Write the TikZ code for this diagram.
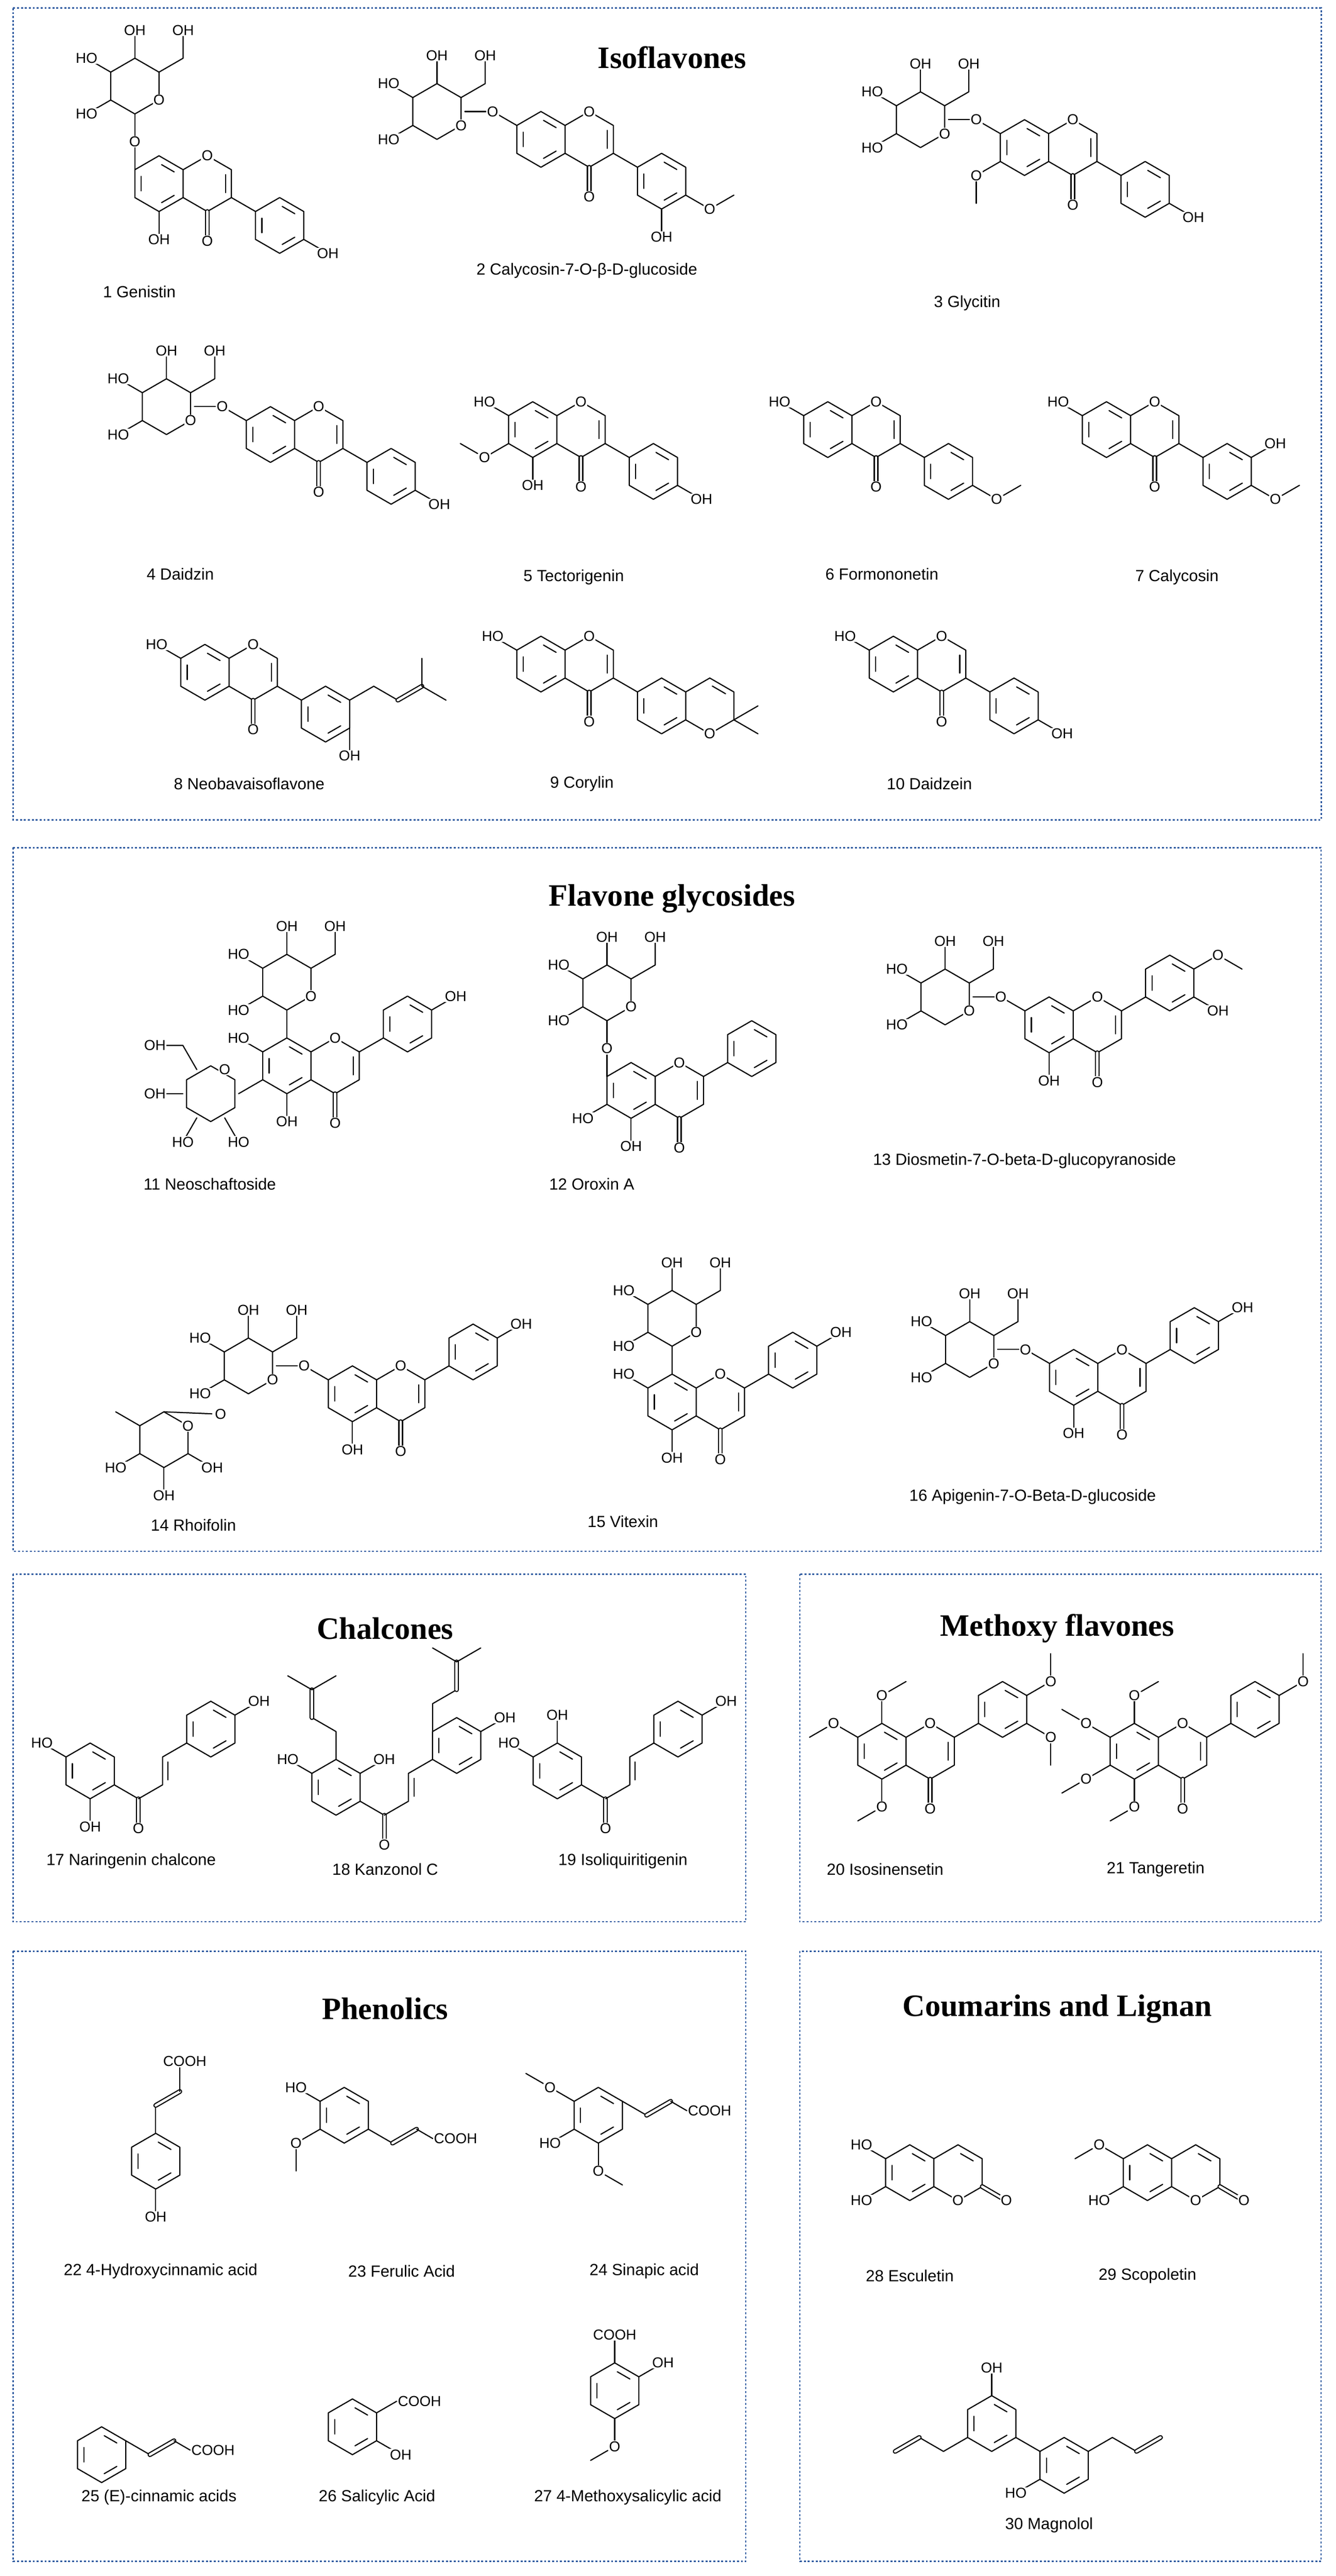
\documentclass[tikz,border=0pt]{standalone}
\usepackage{fontspec}
\setmainfont{Liberation Sans}
\newfontfamily\ttl{Liberation Serif}
\definecolor{boxc}{RGB}{46,90,160}
\newcommand\bd[2]{\draw[bond] (#1)--(#2);}
\newcommand\sbs[3]{\draw[bond] (#1)--(#2) node[atm]{#3};}
\newcommand\dbd[2]{\draw[bond,double,double distance=1.5mm] (#1)--(#2);}
\newcommand\ome[3]{\draw[bond] (#1)--(#2) node[atm] (oo) {O}; \draw[bond] (oo)--(#3);}
\tikzset{
 x=1mm,y=1mm,
 bond/.style={line width=0.7mm, line cap=round, line join=round},
 atm/.style={fill=white, inner sep=0.4mm, font=\fontsize{25}{26}\selectfont},
 lab/.style={font=\fontsize{28}{30}\selectfont},
 ttlst/.style={font=\ttl\bfseries\fontsize{54}{56}\selectfont},
 boxst/.style={draw=boxc, line width=0.7mm, dash pattern=on 1.2mm off 1.2mm},
 pics/hexr/.style={code={
  \draw[bond] (90:17)--(30:17)--(-30:17)--(-90:17)--(-150:17)--(150:17)--cycle;}},
 pics/arom/.style={code={
  \draw[bond] (90:17)--(30:17)--(-30:17)--(-90:17)--(-150:17)--(150:17)--cycle;
  \draw[bond,shorten >=1.8mm,shorten <=1.8mm] (90:12.5)--(30:12.5);
  \draw[bond,shorten >=1.8mm,shorten <=1.8mm] (-30:12.5)--(-90:12.5);
  \draw[bond,shorten >=1.8mm,shorten <=1.8mm] (-150:12.5)--(150:12.5);}},
 pics/chrom/.style={code={
  \pic at (0,0) {arom};
  \draw[bond] (14.72,8.5)--(29.44,17)--(44.17,8.5)--(44.17,-8.5)--(29.44,-17)--(14.72,-8.5);
  \draw[bond] (40.5,5.5)--(40.5,-5.5);
  \draw[bond,double,double distance=1.5mm] (29.44,-17)--(29.44,-32);
  \node[atm] at (29.44,-35) {O};
  \node[atm] at (29.44,17) {O};}},
 pics/isofl/.style={code={
  \pic at (0,0) {chrom};
  \draw[bond] (44.17,-8.5)--(58.9,-17);
  \pic at (73.6,-25.5) {arom};}},
 pics/flav/.style={code={
  \pic at (0,0) {chrom};
  \draw[bond] (44.17,8.5)--(58.9,17);
  \pic at (73.6,25.5) {arom};}},
 pics/glcC/.style={code={
  \pic at (0,0) {hexr};
  \draw[bond] (-14.72,-8.5)--(-29.44,-17) node[atm]{HO};
  \draw[bond] (-14.72,8.5)--(-29.44,17) node[atm]{HO};
  \draw[bond] (0,17)--(0,34) node[atm]{OH};
  \draw[bond] (14.72,8.5)--(29.44,17)--(29.44,34) node[atm]{OH};
  \node[atm] at (14.72,-8.5){O};}},
 pics/glcO/.style={code={
  \draw[bond] (0,-17)--(0,-34) node[atm]{O};
  \pic at (0,0) {glcC};}},
 pics/rha/.style={code={
  \pic at (0,0) {hexr};
  \draw[bond] (-14.72,8.5)--(-29.44,17);
  \draw[bond] (-14.72,-8.5)--(-29.44,-17) node[atm]{HO};
  \draw[bond] (0,-17)--(0,-34) node[atm]{OH};
  \draw[bond] (14.72,-8.5)--(29.44,-17) node[atm]{OH};
  \node[atm] at (14.72,8.5){O};}},
 pics/chal/.style={code={
  \pic at (0,0) {arom};
  \draw[bond] (14.72,-8.5)--(29.44,-17);
  \draw[bond,double,double distance=1.5mm] (29.44,-17)--(29.44,-32);
  \node[atm] at (29.44,-35) {O};
  \draw[bond] (29.44,-17)--(44.17,-8.5)--(44.17,8.5)--(58.9,17);
  \draw[bond] (47.5,-5.5)--(47.5,5.5);
  \pic at (73.6,25.5) {arom};}},
 pics/coum/.style={code={
  \pic at (0,0) {arom};
  \draw[bond] (14.72,8.5)--(29.44,17)--(44.17,8.5)--(44.17,-8.5)--(29.44,-17)--(14.72,-8.5);
  \draw[bond,shorten >=1.8mm,shorten <=1.8mm] (29.44,12.5)--(40.3,6.25);
  \draw[bond,double,double distance=1.5mm] (44.17,-8.5)--(57,-16);
  \node[atm] at (58.9,-17) {O};
  \node[atm] at (29.44,-17) {O};}},
}
\begin{document}
\begin{tikzpicture}
\useasboundingbox (0,0) rectangle (815,-1571);
% boxes
\draw[boxst,line width=0.9mm] (8,-5) rectangle (806,-500);
\draw[boxst] (8,-517) rectangle (806,-946);
\draw[boxst] (8,-960) rectangle (455,-1172);
\draw[boxst] (488,-960) rectangle (806,-1172);
\draw[boxst] (8,-1190) rectangle (455,-1562);
\draw[boxst] (488,-1190) rectangle (806,-1562);
\node[ttlst] (t1) at (410,-35) {Isoflavones};
\node[ttlst] (t2) at (410,-548) {Flavone glycosides};
\node[ttlst] (t3) at (235,-993) {Chalcones};
\node[ttlst] (t4) at (645,-993) {Methoxy flavones};
\node[ttlst] (t5) at (235,-1225) {Phenolics};
\node[ttlst] (t6) at (645,-1225) {Coumarins and Lignan};
% ---------- Isoflavones ----------
\begin{scope}[shift={(97,-112)}]
 \bd{-14.72,8.5}{-14.72,25.5}
 \pic at (-14.72,59.5) {glcO};
 \pic {isofl};
 \sbs{0,-17}{0,-34}{OH}
 \sbs{88.3,-34}{103,-42.5}{OH}
\end{scope}
\node[lab] (l1) at (85,-178) {1 Genistin};
\begin{scope}[shift={(330,-85)}]
 \bd{-14.72,8.5}{-29.44,17}
 \pic[rotate=90] at (-63.44,17) {glcO};
 \pic {isofl};
 \sbs{73.6,-42.5}{73.6,-59.5}{OH}
 \ome{88.3,-34}{103,-42.5}{117.7,-34}
\end{scope}
\node[lab] (l2) at (358,-165) {2 Calycosin-7-O-β-D-glucoside};
\begin{scope}[shift={(625,-90)}]
 \bd{-14.72,8.5}{-29.44,17}
 \pic[rotate=90] at (-63.44,17) {glcO};
 \pic {isofl};
 \ome{-14.72,-8.5}{-29.44,-17}{-29.44,-34}
 \sbs{88.3,-34}{103,-42.5}{OH}
\end{scope}
\node[lab] (l3) at (590,-185) {3 Glycitin};
\begin{scope}[shift={(165,-265)}]
 \bd{-14.72,8.5}{-29.44,17}
 \pic[rotate=90] at (-63.44,17) {glcO};
 \pic {isofl};
 \sbs{88.3,-34}{103,-42.5}{OH}
\end{scope}
\node[lab] (l4) at (110,-350) {4 Daidzin};
\begin{scope}[shift={(325,-262)}]
 \pic {isofl};
 \sbs{-14.72,8.5}{-29.44,17}{HO}
 \ome{-14.72,-8.5}{-29.44,-17}{-44.17,-8.5}
 \sbs{0,-17}{0,-34}{OH}
 \sbs{88.3,-34}{103,-42.5}{OH}
\end{scope}
\node[lab] (l5) at (350,-352) {5 Tectorigenin};
\begin{scope}[shift={(505,-262)}]
 \pic {isofl};
 \sbs{-14.72,8.5}{-29.44,17}{HO}
 \ome{88.3,-34}{103,-42.5}{117.7,-34}
\end{scope}
\node[lab] (l6) at (538,-350) {6 Formononetin};
\begin{scope}[shift={(675,-262)}]
 \pic {isofl};
 \sbs{-14.72,8.5}{-29.44,17}{HO}
 \sbs{88.3,-17}{103,-8.5}{OH}
 \ome{88.3,-34}{103,-42.5}{117.7,-34}
\end{scope}
\node[lab] (l7) at (718,-352) {7 Calycosin};
\begin{scope}[shift={(125,-410)}]
 \pic {isofl};
 \sbs{-14.72,8.5}{-29.44,17}{HO}
 \draw[bond] (88.3,-17)--(103,-8.5)--(117.7,-17);
 \dbd{117.7,-17}{132.4,-8.5}
 \draw[bond] (147.1,-17)--(132.4,-8.5)--(132.4,8.5);
 \sbs{88.3,-34}{88.3,-51}{OH}
\end{scope}
\node[lab] (l8) at (152,-478) {8 Neobavaisoflavone};
\begin{scope}[shift={(330,-405)}]
 \pic {isofl};
 \sbs{-14.72,8.5}{-29.44,17}{HO}
 \draw[bond] (88.3,-17)--(103,-8.5)--(117.7,-17)--(117.7,-34)--(103,-42.5)--(88.3,-34);
 \draw[bond,shorten >=1.8mm,shorten <=1.8mm] (103,-12.5)--(114.2,-19);
 \draw[bond] (132.4,-25.5)--(117.7,-34)--(132.4,-42.5);
 \node[atm] at (103,-42.5) {O};
\end{scope}
\node[lab] (l9) at (355,-478) {9 Corylin};
\begin{scope}[shift={(545,-405)}]
 \pic {isofl};
 \sbs{-14.72,8.5}{-29.44,17}{HO}
 \sbs{88.3,-34}{103,-42.5}{OH}
\end{scope}
\node[lab] (l10) at (567,-478) {10 Daidzein};
% ---------- Flavone glycosides ----------
\begin{scope}[shift={(175,-650)}]
 \bd{0,17}{0,34}
 \pic at (0,51) {glcC};
 \bd{-14.72,-8.5}{-29.44,-17}
 \pic[rotate=90] at (-46.44,-17) {glcC};
 \pic {flav};
 \sbs{-14.72,8.5}{-29.44,17}{HO}
 \sbs{0,-17}{0,-34}{OH}
 \sbs{88.3,34}{103,42.5}{OH}
\end{scope}
\node[lab] (l11) at (128,-722) {11 Neoschaftoside};
\begin{scope}[shift={(385,-665)}]
 \bd{-14.72,8.5}{-14.72,25.5}
 \pic at (-14.72,59.5) {glcO};
 \pic {flav};
 \sbs{-14.72,-8.5}{-29.44,-17}{HO}
 \sbs{0,-17}{0,-34}{OH}
\end{scope}
\node[lab] (l12) at (361,-722) {12 Oroxin A};
\begin{scope}[shift={(640,-625)}]
 \bd{-14.72,8.5}{-29.44,17}
 \pic[rotate=90] at (-63.44,17) {glcO};
 \pic {flav};
 \sbs{0,-17}{0,-34}{OH}
 \ome{88.3,34}{103,42.5}{117.7,34}
 \sbs{88.3,17}{103,8.5}{OH}
\end{scope}
\node[lab] (l13) at (625,-708) {13 Diosmetin-7-O-beta-D-glucopyranoside};
\begin{scope}[shift={(215,-850)}]
 \bd{-14.72,8.5}{-29.44,17}
 \pic[rotate=90] at (-63.44,17) {glcO};
 \bd{-115,-11}{-80.44,-12.44}
 \node[atm,minimum width=10mm] at (-80.44,-12.44) {O};
 \pic at (-115,-28) {rha};
 \pic {flav};
 \sbs{0,-17}{0,-34}{OH}
 \sbs{88.3,34}{103,42.5}{OH}
\end{scope}
\node[lab] (l14) at (118,-930) {14 Rhoifolin};
\begin{scope}[shift={(410,-855)}]
 \bd{0,17}{0,34}
 \pic at (0,51) {glcC};
 \pic {flav};
 \sbs{-14.72,8.5}{-29.44,17}{HO}
 \sbs{0,-17}{0,-34}{OH}
 \sbs{88.3,34}{103,42.5}{OH}
\end{scope}
\node[lab] (l15) at (380,-928) {15 Vitexin};
\begin{scope}[shift={(655,-840)}]
 \bd{-14.72,8.5}{-29.44,17}
 \pic[rotate=90] at (-63.44,17) {glcO};
 \pic {flav};
 \sbs{0,-17}{0,-34}{OH}
 \sbs{88.3,34}{103,42.5}{OH}
\end{scope}
\node[lab] (l16) at (630,-913) {16 Apigenin-7-O-Beta-D-glucoside};
% ---------- Chalcones ----------
\begin{scope}[shift={(55,-1080)}]
 \pic {chal};
 \sbs{-14.72,8.5}{-29.44,17}{HO}
 \sbs{0,-17}{0,-34}{OH}
 \sbs{88.3,34}{103,42.5}{OH}
\end{scope}
\node[lab] (l17) at (80,-1135) {17 Naringenin chalcone};
\begin{scope}[shift={(205,-1090)}]
 \pic {chal};
 \sbs{-14.72,8.5}{-29.44,17}{HO}
 \sbs{14.72,8.5}{29.44,17}{OH}
 \draw[bond] (0,17)--(0,34)--(-14.72,42.5);
 \dbd{-14.72,42.5}{-14.72,59.5}
 \draw[bond] (-29.44,68)--(-14.72,59.5)--(0,68);
 \draw[bond] (58.9,34)--(58.9,51)--(73.6,59.5);
 \dbd{73.6,59.5}{73.6,76.5}
 \draw[bond] (58.9,85)--(73.6,76.5)--(88.3,85);
 \sbs{88.3,34}{103,42.5}{OH}
\end{scope}
\node[lab] (l18) at (235,-1140) {18 Kanzonol C};
\begin{scope}[shift={(340,-1080)}]
 \pic {chal};
 \sbs{-14.72,8.5}{-29.44,17}{HO}
 \sbs{0,17}{0,34}{OH}
 \sbs{88.3,34}{103,42.5}{OH}
\end{scope}
\node[lab] (l19) at (380,-1135) {19 Isoliquiritigenin};
% ---------- Methoxy flavones ----------
\begin{scope}[shift={(538,-1068)}]
 \pic {flav};
 \ome{0,17}{0,34}{14.72,42.5}
 \ome{-14.72,8.5}{-29.44,17}{-44.17,8.5}
 \ome{0,-17}{0,-34}{-14.72,-42.5}
 \ome{88.3,34}{103,42.5}{103,59.5}
 \ome{88.3,17}{103,8.5}{103,-8.5}
\end{scope}
\node[lab] (l20) at (540,-1140) {20 Isosinensetin};
\begin{scope}[shift={(692,-1068)}]
 \pic {flav};
 \ome{0,17}{0,34}{14.72,42.5}
 \ome{-14.72,8.5}{-29.44,17}{-44.17,25.5}
 \ome{-14.72,-8.5}{-29.44,-17}{-44.17,-25.5}
 \ome{0,-17}{0,-34}{-14.72,-42.5}
 \ome{88.3,34}{103,42.5}{103,59.5}
\end{scope}
\node[lab] (l21) at (705,-1140) {21 Tangeretin};
% ---------- Phenolics ----------
\begin{scope}[shift={(95,-1318)}]
 \pic {arom};
 \sbs{0,-17}{0,-34}{OH}
 \bd{0,17}{0,34}
 \dbd{0,34}{14.72,42.5}
 \draw[bond] (14.72,42.5)--(14.72,57) node[atm,anchor=south,xshift=3mm]{COOH};
\end{scope}
\node[lab] (l22) at (98,-1385) {22 4-Hydroxycinnamic acid};
\begin{scope}[shift={(210,-1290)}]
 \pic {arom};
 \sbs{-14.72,8.5}{-29.44,17}{HO}
 \ome{-14.72,-8.5}{-29.44,-17}{-29.44,-34}
 \bd{14.72,-8.5}{29.44,-17}
 \dbd{29.44,-17}{44.17,-8.5}
 \draw[bond] (44.17,-8.5)--(54,-14.2) node[atm,anchor=west]{COOH};
\end{scope}
\node[lab] (l23) at (245,-1385) {23 Ferulic Acid};
\begin{scope}[shift={(365,-1290)}]
 \pic {arom};
 \sbs{-14.72,-8.5}{-29.44,-17}{HO}
 \ome{-14.72,8.5}{-29.44,17}{-44.17,25.5}
 \ome{0,-17}{0,-34}{14.72,-42.5}
 \bd{14.72,8.5}{29.44,0}
 \dbd{29.44,0}{44.17,8.5}
 \draw[bond] (44.17,8.5)--(54,2.8) node[atm,anchor=west]{COOH};
\end{scope}
\node[lab] (l24) at (393,-1385) {24 Sinapic acid};
\begin{scope}[shift={(62,-1497)}]
 \pic {arom};
 \bd{14.72,8.5}{29.44,0}
 \dbd{29.44,0}{44.17,8.5}
 \draw[bond] (44.17,8.5)--(54,2.8) node[atm,anchor=west]{COOH};
\end{scope}
\node[lab] (l25) at (97,-1523) {25 (E)-cinnamic acids};
\begin{scope}[shift={(215,-1480)}]
 \pic {arom};
 \draw[bond] (14.72,8.5)--(27,15.6) node[atm,anchor=west]{COOH};
 \sbs{14.72,-8.5}{29.44,-17}{OH}
\end{scope}
\node[lab] (l26) at (230,-1523) {26 Salicylic Acid};
\begin{scope}[shift={(375,-1458)}]
 \pic {arom};
 \sbs{0,17}{0,34}{COOH}
 \sbs{14.72,8.5}{29.44,17}{OH}
 \ome{0,-17}{0,-34}{-14.72,-42.5}
\end{scope}
\node[lab] (l27) at (383,-1523) {27 4-Methoxysalicylic acid};
% ---------- Coumarins and Lignan ----------
\begin{scope}[shift={(555,-1325)}]
 \pic {coum};
 \sbs{-14.72,8.5}{-29.44,17}{HO}
 \sbs{-14.72,-8.5}{-29.44,-17}{HO}
\end{scope}
\node[lab] (l28) at (555,-1388) {28 Esculetin};
\begin{scope}[shift={(700,-1325)}]
 \pic {coum};
 \ome{-14.72,8.5}{-29.44,17}{-44.17,8.5}
 \sbs{-14.72,-8.5}{-29.44,-17}{HO}
\end{scope}
\node[lab] (l29) at (700,-1388) {29 Scopoletin};
\begin{scope}[shift={(605,-1478)}]
 \pic {arom};
 \pic at (44.17,-25.5) {arom};
 \bd{14.72,-8.5}{29.44,-17}
 \sbs{0,17}{0,34}{OH}
 \draw[bond] (-14.72,-8.5)--(-29.44,-17)--(-44.17,-8.5);
 \dbd{-44.17,-8.5}{-58.9,-17}
 \sbs{29.44,-34}{14.72,-42.5}{HO}
 \draw[bond] (58.9,-17)--(73.6,-8.5)--(88.3,-17);
 \dbd{88.3,-17}{103,-8.5}
\end{scope}
\node[lab] (l30) at (640,-1540) {30 Magnolol};
\end{tikzpicture}
\end{document}
